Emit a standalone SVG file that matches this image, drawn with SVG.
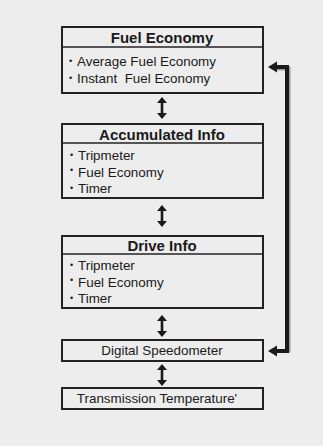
<svg xmlns="http://www.w3.org/2000/svg" width="323" height="446" viewBox="0 0 323 446">
<style>
.box{fill:#ededed;stroke:#222;stroke-width:2}
.div{stroke:#222;stroke-width:1.5}
.h{font-family:"Liberation Sans",Arial,sans-serif;font-weight:bold;font-size:15px;fill:#1a1a1a;text-anchor:middle}
.t{font-family:"Liberation Sans",Arial,sans-serif;font-size:13.4px;fill:#1a1a1a;white-space:pre}
.c{text-anchor:middle}
.b{font-size:9px}
.ar{fill:#1a1a1a}
.ln{fill:none;stroke:#1a1a1a;stroke-width:4}
.sh{fill:none;stroke:#9a9a9a;stroke-width:4}
</style>
<defs>
<path id="dbl" d="M0,0 L5,6 L1.3,6 L1.3,16 L5,16 L0,22 L-5,16 L-1.3,16 L-1.3,6 L-5,6 Z"/>
</defs>
<rect width="323" height="446" fill="#ededed"/>
<g id="fuel-economy">
<rect class="box" x="62" y="27" width="201" height="66"/>
<line class="div" x1="62" y1="47" x2="263" y2="47"/>
<text class="h" x="162" y="43">Fuel Economy</text>
<text class="t" x="69" y="66"><tspan class="b" dy="-2.5">•</tspan><tspan x="77" dy="2.5">Average Fuel Economy</tspan></text>
<text class="t" x="69" y="83" xml:space="preserve"><tspan class="b" dy="-2.5">•</tspan><tspan x="77" dy="2.5">Instant  Fuel Economy</tspan></text>
</g>
<g id="accumulated-info">
<rect class="box" x="62" y="124" width="201" height="74"/>
<line class="div" x1="62" y1="143" x2="263" y2="143"/>
<text class="h" x="162" y="140">Accumulated Info</text>
<text class="t" x="70" y="160"><tspan class="b" dy="-2.5">•</tspan><tspan x="78" dy="2.5">Tripmeter</tspan></text>
<text class="t" x="70" y="177"><tspan class="b" dy="-4">•</tspan><tspan x="78" dy="4">Fuel Economy</tspan></text>
<text class="t" x="70" y="193"><tspan class="b" dy="-2.5">•</tspan><tspan x="78" dy="2.5">Timer</tspan></text>
</g>
<g id="drive-info">
<rect class="box" x="62" y="236" width="201" height="72"/>
<line class="div" x1="62" y1="254" x2="263" y2="254"/>
<text class="h" x="162" y="251">Drive Info</text>
<text class="t" x="70" y="270"><tspan class="b" dy="-2.5">•</tspan><tspan x="78" dy="2.5">Tripmeter</tspan></text>
<text class="t" x="70" y="287"><tspan class="b" dy="-4">•</tspan><tspan x="78" dy="4">Fuel Economy</tspan></text>
<text class="t" x="70" y="303"><tspan class="b" dy="-2.5">•</tspan><tspan x="78" dy="2.5">Timer</tspan></text>
</g>
<g id="digital-speedometer">
<rect class="box" x="62" y="340" width="201" height="21"/>
<text class="t c" x="162" y="355">Digital Speedometer</text>
</g>
<g id="transmission-temperature">
<rect class="box" x="62" y="388" width="201" height="21"/>
<text class="t c" x="157" y="403">Transmission Temperature'</text>
</g>
<g id="connectors">
<use href="#dbl" class="ar" x="162" y="97"/>
<use href="#dbl" class="ar" x="162" y="205"/>
<use href="#dbl" class="ar" x="162" y="315"/>
<use href="#dbl" class="ar" x="162" y="364"/>
<path class="sh" d="M276,68.5 H288.5 V352.5"/>
<path class="ln" d="M275,67 H287 V351 H275"/>
<path class="ar" d="M268,67 L277,61.5 L277,72.5 Z"/>
<path class="ar" d="M268,351 L277,345.5 L277,356.5 Z"/>
</g>
</svg>
